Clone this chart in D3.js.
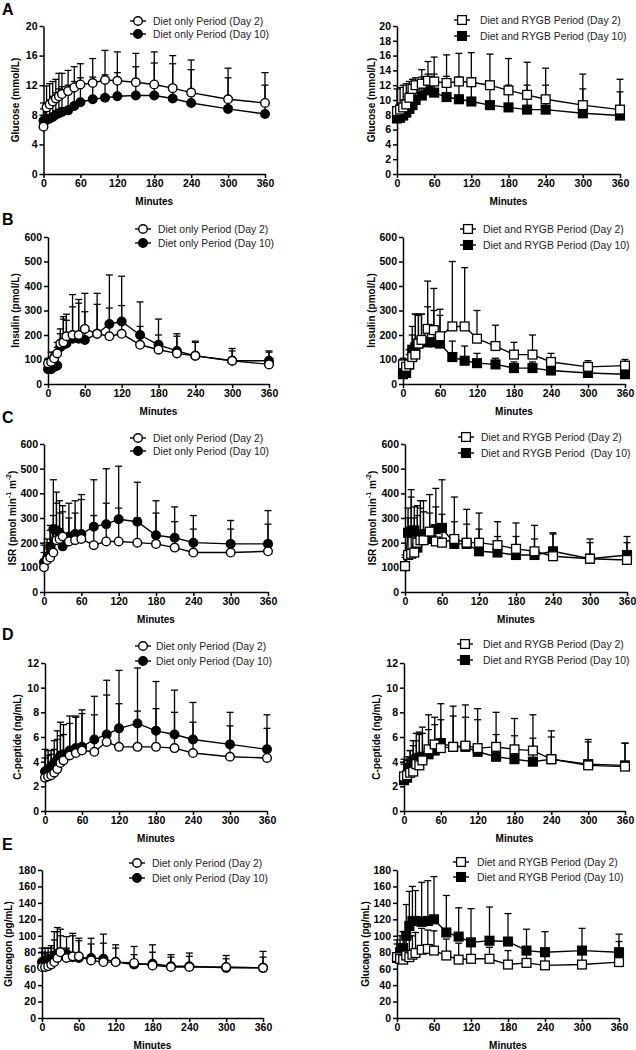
<!DOCTYPE html>
<html>
<head>
<meta charset="utf-8">
<script src="https://cdn.jsdelivr.net/npm/d3@7"></script>
<style>
body { margin: 0; background: #fff; }
svg { display: block; font-family: "Liberation Sans", Arial, sans-serif; }
.axis .tick text { font-size: 10.5px; font-weight: bold; fill: #000; }
.axis path, .axis line { stroke: #000; stroke-width: 1.5px; }
.legend text { font-size: 10.4px; fill: #222; white-space: pre; }
</style>
</head>
<body>
<div id="chart"></div>
<script>
// sampling times (minutes)
const minutes = [0, 5, 10, 15, 20, 25, 30, 40, 50, 60, 80, 100, 120, 150, 180, 210, 240, 300, 360];
const xTicks = [0, 60, 120, 180, 240, 300, 360];

// A - glucose (mmol/L)
const glucoseDietDay2 = [6.4, 9.0, 9.4, 9.8, 10.2, 10.5, 10.8, 11.2, 11.7, 12.1, 12.3, 12.7, 12.6, 12.4, 12.1, 11.6, 11.0, 10.1, 9.6];
const glucoseDietDay2Upper = [9.6, 11.9, 12.2, 12.5, 12.8, 13.6, 13.6, 14.0, 14.5, 14.9, 15.6, 16.7, 16.5, 16.3, 16.5, 16.0, 15.4, 14.3, 13.7];
const glucoseDietDay10 = [7.2, 7.3, 7.5, 7.7, 8.0, 8.2, 8.4, 8.6, 9.2, 9.7, 10.1, 10.3, 10.5, 10.6, 10.6, 10.2, 9.6, 8.8, 8.1];
const glucoseDietDay10Upper = [8.8, 9.5, 10.0, 10.5, 11.0, 11.5, 11.8, 12.0, 12.5, 13.0, 13.1, 13.4, 13.7, 14.5, 15.0, 14.9, 14.1, 13.0, 12.0];
const glucoseRygbDay2 = [8.5, 8.7, 9.0, 9.4, 10.3, 11.5, 12.0, 12.2, 12.6, 12.5, 12.3, 12.5, 12.4, 12.0, 11.3, 10.7, 10.1, 9.3, 8.7];
const glucoseRygbDay2Upper = [11.5, 11.7, 12.0, 12.2, 12.5, 12.8, 13.0, 14.1, 15.2, 15.8, 16.1, 16.3, 16.4, 16.2, 15.6, 15.1, 14.3, 13.5, 12.8];
const glucoseRygbDay10 = [7.5, 7.6, 7.9, 8.3, 8.8, 9.3, 10.0, 10.6, 11.3, 11.0, 10.4, 10.1, 9.8, 9.3, 9.0, 8.7, 8.7, 8.2, 7.9];
const glucoseRygbDay10Upper = [9.0, 9.5, 10.0, 10.5, 11.0, 11.8, 12.3, 13.1, 13.5, 13.5, 13.2, 13.1, 13.0, 12.5, 12.0, 12.0, 12.0, 11.5, 11.1];

// B - insulin (pmol/L)
const insulinDietDay2 = [85, 90, 105, 125, 165, 170, 195, 200, 200, 225, 205, 195, 205, 160, 140, 125, 115, 95, 80];
const insulinDietDay2Upper = [105, 130, 130, 170, 225, 275, 285, 365, 345, 370, 370, 310, 320, 235, 200, 195, 175, 135, 130];
const insulinDietDay10 = [60, 60, 70, 75, 150, 160, 165, 185, 185, 180, 205, 245, 255, 200, 160, 135, 115, 95, 95];
const insulinDietDay10Upper = [100, 110, 120, 150, 205, 265, 260, 315, 330, 295, 325, 445, 440, 335, 265, 205, 170, 145, 135];
const insulinRygbDay2 = [80, 70, 80, 110, 120, 165, 180, 225, 220, 195, 235, 235, 185, 155, 120, 120, 90, 70, 75];
const insulinRygbDay2Upper = [105, 100, 120, 235, 285, 285, 285, 420, 390, 305, 500, 475, 300, 240, 170, 200, 125, 95, 100];
const insulinRygbDay10 = [40, 45, 80, 140, 150, 165, 175, 170, 170, 165, 110, 95, 85, 80, 65, 65, 55, 45, 40];
const insulinRygbDay10Upper = [95, 90, 140, 200, 285, 280, 285, 315, 300, 280, 175, 155, 125, 105, 90, 90, 80, 65, 60];

// C - insulin secretion rate (pmol min-1 m-2)
const isrDietDay2 = [100, 130, 140, 160, 210, 215, 225, 205, 210, 215, 190, 205, 205, 200, 195, 180, 160, 160, 165];
const isrDietDay2Upper = [160, 200, 250, 310, 360, 320, 325, 300, 320, 375, 310, 360, 340, 300, 320, 285, 255, 255, 275];
const isrDietDay10 = [120, 140, 180, 255, 250, 240, 185, 225, 235, 235, 265, 275, 295, 285, 230, 220, 200, 195, 195];
const isrDietDay10Upper = [190, 215, 270, 455, 405, 370, 350, 360, 370, 395, 455, 500, 510, 445, 370, 345, 310, 290, 330];
const isrRygbDay2 = [105, 150, 155, 160, 200, 210, 210, 245, 205, 200, 215, 200, 200, 190, 175, 165, 145, 135, 130];
const isrRygbDay2Upper = [150, 300, 385, 345, 350, 370, 370, 395, 420, 455, 385, 335, 320, 285, 280, 270, 235, 215, 225];
const isrRygbDay10 = [105, 240, 245, 250, 180, 220, 235, 215, 255, 260, 195, 195, 165, 160, 150, 150, 165, 135, 150];
const isrRygbDay10Upper = [140, 340, 415, 300, 310, 340, 325, 320, 345, 315, 285, 275, 255, 225, 225, 215, 240, 200, 200];

// D - C-peptide (ng/mL)
const cpepDietDay2 = [2.7, 2.8, 2.9, 3.1, 3.4, 3.9, 4.1, 4.5, 4.7, 4.9, 4.8, 5.6, 5.2, 5.2, 5.2, 5.1, 4.7, 4.4, 4.3];
const cpepDietDay2Upper = [4.3, 4.5, 4.6, 5.0, 5.8, 6.1, 6.2, 7.1, 7.6, 7.9, 7.8, 9.4, 8.7, 8.1, 8.3, 8.0, 7.2, 6.9, 6.7];
const cpepDietDay10 = [3.2, 3.4, 3.6, 3.9, 4.2, 4.5, 4.6, 4.9, 5.1, 5.2, 5.8, 6.2, 6.7, 7.1, 6.5, 6.2, 5.8, 5.4, 5.0];
const cpepDietDay10Upper = [5.0, 4.9, 4.9, 5.7, 6.5, 7.2, 7.0, 7.7, 7.7, 8.2, 9.3, 10.6, 11.4, 11.6, 10.5, 9.8, 8.8, 8.0, 7.8];
const cpepRygbDay2 = [2.8, 2.9, 3.1, 3.2, 3.8, 3.7, 4.1, 5.0, 5.4, 5.1, 5.2, 5.3, 5.1, 5.2, 5.0, 4.9, 4.2, 3.7, 3.6];
const cpepRygbDay2Upper = [4.2, 4.4, 4.9, 5.7, 6.3, 6.4, 6.8, 7.8, 7.6, 8.7, 8.5, 8.6, 8.3, 8.0, 7.5, 7.8, 6.5, 5.8, 5.5];
const cpepRygbDay10 = [2.5, 2.7, 3.5, 4.0, 4.2, 4.3, 4.4, 4.6, 4.9, 5.5, 5.2, 5.2, 4.8, 4.4, 4.2, 4.0, 4.2, 3.8, 3.7];
const cpepRygbDay10Upper = [3.8, 4.1, 4.9, 5.3, 5.7, 6.2, 6.3, 6.6, 7.0, 7.4, 7.7, 7.6, 7.4, 6.2, 6.1, 5.9, 6.0, 5.6, 5.5];

// E - glucagon (pg/mL)
const glucagonDietDay2 = [62, 62, 63, 65, 68, 73, 80, 73, 75, 75, 70, 68, 68, 67, 64, 62, 62, 62, 61];
const glucagonDietDay2Upper = [80, 78, 80, 85, 95, 105, 100, 85, 100, 94, 90, 91, 85, 77, 80, 74, 75, 72, 74];
const glucagonDietDay10 = [68, 70, 71, 72, 76, 78, 80, 78, 74, 73, 73, 72, 68, 65, 66, 63, 63, 61, 61];
const glucagonDietDay10Upper = [85, 85, 85, 88, 105, 110, 108, 99, 103, 97, 97, 102, 89, 87, 89, 77, 79, 76, 81];
const glucagonRygbDay2 = [74, 72, 71, 76, 74, 77, 79, 83, 84, 82, 76, 71, 72, 72, 65, 67, 64, 65, 68];
const glucagonRygbDay2Upper = [90, 85, 90, 105, 98, 100, 104, 109, 107, 106, 96, 91, 88, 86, 82, 80, 78, 79, 93];
const glucagonRygbDay10 = [73, 80, 85, 100, 112, 118, 118, 117, 118, 120, 104, 99, 92, 94, 93, 82, 80, 82, 80];
const glucagonRygbDay10Upper = [95, 100, 105, 138, 154, 160, 155, 165, 167, 172, 149, 134, 133, 135, 127, 108, 105, 109, 102];

// y tick labels
const glucoseTicksDiet = [0, 4, 8, 12, 16, 20];
const glucoseTicksRygb = [0, 2, 4, 6, 8, 10, 12, 14, 16, 18, 20];
const insulinTicks = [0, 100, 200, 300, 400, 500, 600];
const isrTicks = [0, 100, 200, 300, 400, 500, 600];
const cpepTicks = [0, 2, 4, 6, 8, 10, 12];
const glucagonTicks = [0, 20, 40, 60, 80, 100, 120, 140, 160, 180];

const dietLabels = ["Diet only Period (Day 2)", "Diet only Period (Day 10)"];
const rygbLabels = ["Diet and RYGB Period (Day 2)", "Diet and RYGB Period (Day 10)"];
const rygbLabelsIsr = ["Diet and RYGB Period (Day 2)", "Diet and RYGB Period  (Day 10)"];

const width = 636, height = 1050;

const svg = d3.select("#chart").append("svg")
    .attr("width", width)
    .attr("height", height);

// panel layout
const panels = [
    { x0: 43.5, x1: 265, yTop: 26, yBot: 174, ticks: glucoseTicksDiet, title: "Glucose (mmol/L)", tOff: 28,
      day2: glucoseDietDay2, day2Up: glucoseDietDay2Upper, day10: glucoseDietDay10, day10Up: glucoseDietDay10Upper,
      shape: "circle", labels: dietLabels, lx: 138, ltx: 153, ly: [21, 34] },
    { x0: 397, x1: 620, yTop: 26, yBot: 174, ticks: glucoseTicksRygb, title: "Glucose (mmol/L)", tOff: 26,
      day2: glucoseRygbDay2, day2Up: glucoseRygbDay2Upper, day10: glucoseRygbDay10, day10Up: glucoseRygbDay10Upper,
      shape: "square", labels: rygbLabels, lx: 462, ltx: 480, ly: [20, 36] },
    { x0: 48, x1: 269, yTop: 237, yBot: 384, ticks: insulinTicks, title: "Insulin (pmol/L)", tOff: 33,
      day2: insulinDietDay2, day2Up: insulinDietDay2Upper, day10: insulinDietDay10, day10Up: insulinDietDay10Upper,
      shape: "circle", labels: dietLabels, lx: 143, ltx: 158, ly: [229, 243] },
    { x0: 403, x1: 625, yTop: 237, yBot: 384, ticks: insulinTicks, title: "Insulin (pmol/L)", tOff: 32,
      day2: insulinRygbDay2, day2Up: insulinRygbDay2Upper, day10: insulinRygbDay10, day10Up: insulinRygbDay10Upper,
      shape: "square", labels: rygbLabels, lx: 468, ltx: 483, ly: [229, 245] },
    { x0: 44, x1: 268, yTop: 444, yBot: 592, ticks: isrTicks, title: "ISR", tOff: 32,
      day2: isrDietDay2, day2Up: isrDietDay2Upper, day10: isrDietDay10, day10Up: isrDietDay10Upper,
      shape: "circle", labels: dietLabels, lx: 138, ltx: 153, ly: [438, 451] },
    { x0: 405, x1: 627, yTop: 444, yBot: 592, ticks: isrTicks, title: "ISR", tOff: 33,
      day2: isrRygbDay2, day2Up: isrRygbDay2Upper, day10: isrRygbDay10, day10Up: isrRygbDay10Upper,
      shape: "square", labels: rygbLabelsIsr, lx: 466, ltx: 481, ly: [437, 453] },
    { x0: 45, x1: 267, yTop: 663, yBot: 811, ticks: cpepTicks, title: "C-peptide (ng/mL)", tOff: 28,
      day2: cpepDietDay2, day2Up: cpepDietDay2Upper, day10: cpepDietDay10, day10Up: cpepDietDay10Upper,
      shape: "circle", labels: dietLabels, lx: 143, ltx: 156, ly: [646, 661] },
    { x0: 404, x1: 625, yTop: 663, yBot: 811, ticks: cpepTicks, title: "C-peptide (ng/mL)", tOff: 28,
      day2: cpepRygbDay2, day2Up: cpepRygbDay2Upper, day10: cpepRygbDay10, day10Up: cpepRygbDay10Upper,
      shape: "square", labels: rygbLabels, lx: 465, ltx: 483, ly: [644, 660] },
    { x0: 42, x1: 263, yTop: 870, yBot: 1018, ticks: glucagonTicks, title: "Glucagon (pg/mL)", tOff: 34,
      day2: glucagonDietDay2, day2Up: glucagonDietDay2Upper, day10: glucagonDietDay10, day10Up: glucagonDietDay10Upper,
      shape: "circle", labels: dietLabels, lx: 137, ltx: 152, ly: [863, 878] },
    { x0: 397, x1: 619, yTop: 870, yBot: 1018, ticks: glucagonTicks, title: "Glucagon (pg/mL)", tOff: 32,
      day2: glucagonRygbDay2, day2Up: glucagonRygbDay2Upper, day10: glucagonRygbDay10, day10Up: glucagonRygbDay10Upper,
      shape: "square", labels: rygbLabels, lx: 461, ltx: 477, ly: [862, 877] }
];

// panel letters
const letters = [["A", 15], ["B", 225], ["C", 423], ["D", 640], ["E", 850]];
svg.selectAll(".letter")
    .data(letters)
    .enter().append("text")
    .attr("x", 2)
    .attr("y", d => d[1])
    .style("font-size", "16px")
    .style("font-weight", "bold")
    .text(d => d[0]);

function drawMarker(g, shape, cx, cy, filled) {
    if (shape === "circle") {
        g.append("circle")
            .attr("cx", cx).attr("cy", cy).attr("r", 4.3)
            .attr("fill", filled ? "#000" : "#fff")
            .attr("stroke", "#000").attr("stroke-width", 1.4);
    } else {
        g.append("rect")
            .attr("x", cx - 4.4).attr("y", cy - 4.4)
            .attr("width", 8.8).attr("height", 8.8)
            .attr("fill", filled ? "#000" : "#fff")
            .attr("stroke", "#000").attr("stroke-width", 1.3);
    }
}

panels.forEach(p => {
    const x = d3.scaleLinear().domain([0, 360]).range([p.x0, p.x1]);
    const yMax = p.ticks[p.ticks.length - 1];
    const y = d3.scaleLinear().domain([0, yMax]).range([p.yBot, p.yTop]);
    const g = svg.append("g");

    // axes
    g.append("g")
        .attr("class", "axis")
        .attr("transform", `translate(${p.x0},0)`)
        .call(d3.axisLeft(y).tickValues(p.ticks).tickSize(4).tickSizeOuter(0).tickPadding(2));

    g.append("g")
        .attr("class", "axis")
        .attr("transform", `translate(0,${p.yBot})`)
        .call(d3.axisBottom(x).tickValues(xTicks).tickSize(4).tickSizeOuter(0).tickPadding(2));

    g.append("text")
        .attr("x", (p.x0 + p.x1) / 2)
        .attr("y", p.yBot + 31)
        .attr("text-anchor", "middle")
        .style("font-size", "10px")
        .style("font-weight", "bold")
        .text("Minutes");

    // y title
    const t = g.append("text")
        .attr("transform", `translate(${p.x0 - p.tOff},${(p.yTop + p.yBot) / 2}) rotate(-90)`)
        .attr("text-anchor", "middle")
        .attr("dominant-baseline", "central")
        .style("font-size", "10px")
        .style("font-weight", "bold");
    if (p.title === "ISR") {
        t.append("tspan").text("ISR (pmol min");
        t.append("tspan").attr("dy", -4).style("font-size", "7px").text("-1");
        t.append("tspan").attr("dy", 4).text(" m");
        t.append("tspan").attr("dy", -4).style("font-size", "7px").text("-2");
        t.append("tspan").attr("dy", 4).text(")");
    } else {
        t.text(p.title);
    }

    const series = [
        { mean: p.day10, up: p.day10Up, filled: true },
        { mean: p.day2, up: p.day2Up, filled: false }
    ];

    // error bars (upper only)
    series.forEach(s => {
        minutes.forEach((m, i) => {
            const cx = x(m);
            g.append("line")
                .attr("x1", cx).attr("x2", cx)
                .attr("y1", y(s.mean[i])).attr("y2", y(s.up[i]))
                .attr("stroke", "#000").attr("stroke-width", 1.3);
            g.append("line")
                .attr("x1", cx - 3.5).attr("x2", cx + 3.5)
                .attr("y1", y(s.up[i])).attr("y2", y(s.up[i]))
                .attr("stroke", "#000").attr("stroke-width", 1.3);
        });
    });

    const line = d3.line().x((d, i) => x(minutes[i])).y(d => y(d));
    series.forEach(s => {
        g.append("path")
            .attr("d", line(s.mean))
            .attr("fill", "none")
            .attr("stroke", "#000")
            .attr("stroke-width", 1.4);
    });

    series.forEach(s => {
        minutes.forEach((m, i) => drawMarker(g, p.shape, x(m), y(s.mean[i]), s.filled));
    });

    // legend
    const leg = g.append("g").attr("class", "legend");
    [false, true].forEach((filled, k) => {
        const ly = p.ly[k];
        leg.append("line")
            .attr("x1", p.lx - 8).attr("x2", p.lx + 8)
            .attr("y1", ly).attr("y2", ly)
            .attr("stroke", "#000").attr("stroke-width", 1.4);
        drawMarker(leg, p.shape, p.lx, ly, filled);
        leg.append("text")
            .attr("x", p.ltx)
            .attr("y", ly)
            .attr("dominant-baseline", "central")
            .text(p.labels[k]);
    });
});
</script>
</body>
</html>
